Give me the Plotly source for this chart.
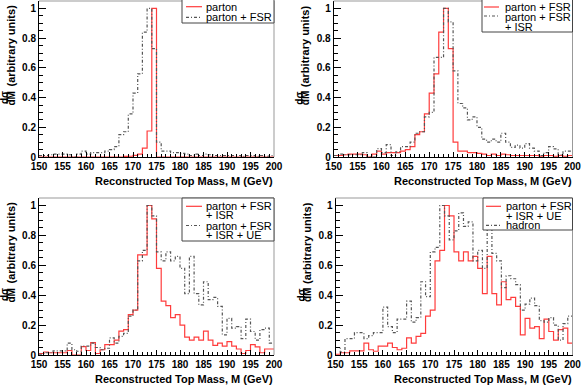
import numpy as np
import plotly.graph_objects as go

W, H = 582, 386

# bin edges: 1 GeV bins from 150 to 200
m_lo, m_hi = 150, 200

parton = [0, 0, 0, 0, 0, 0, 0, 0, 0, 0,
          0, 0, 0, 0, 0, 0, 0, 0, 0.004, 0.005,
          0.011, 0.02, 0.06, 0.175, 1.0, 0, 0, 0, 0, 0,
          0, 0, 0, 0, 0, 0, 0, 0, 0, 0,
          0, 0, 0, 0, 0, 0, 0, 0, 0, 0]

fsr = [0.01, 0.01, 0.015, 0.02, 0.02, 0.02, 0.015, 0.0, 0.02, 0.04,
       0.02, 0.03, 0.03, 0.03, 0.04, 0.05, 0.07, 0.15, 0.17, 0.29,
       0.43, 0.56, 0.84, 1.0, 0.73, 0.1, 0.04, 0.04, 0.03, 0.03,
       0.025, 0.02, 0.01, 0.02, 0.01, 0.02, 0.015, 0.01, 0.01, 0.01,
       0.01, 0.01, 0.01, 0.005, 0.01, 0.01, 0.005, 0.01, 0.005, 0.01]

isr = [0.01, 0.02, 0.015, 0.015, 0.015, 0.015, 0.03, 0.0, 0.0, 0.056,
       0.03, 0.083, 0.01, 0.035, 0.07, 0.07, 0.1, 0.16, 0.17, 0.27,
       0.3, 0.67, 0.67, 1.0, 0.91, 0.58, 0.36, 0.33, 0.25, 0.27,
       0.2, 0.12, 0.1, 0.12, 0.1, 0.16, 0.1, 0.065, 0.08, 0.06,
       0.09, 0.06, 0.04, 0.01, 0.03, 0.07, 0.055, 0.015, 0.04, 0.04]

ue = [0.005, 0.015, 0.015, 0.027, 0.027, 0.027, 0.08, 0.035, 0.025, 0.06,
      0.06, 0.08, 0.05, 0.035, 0.045, 0.115, 0.08, 0.125, 0.145, 0.26,
      0.3, 0.63, 0.7, 1.0, 0.93, 0.69, 0.63, 0.69, 0.63, 0.66,
      0.58, 0.41, 0.66, 0.41, 0.335, 0.49, 0.37, 0.385, 0.325, 0.135,
      0.245, 0.18, 0.19, 0.11, 0.24, 0.157, 0.1, 0.17, 0.18, 0.08]

hadron = [0.05, 0.02, 0.11, 0.11, 0.15, 0.15, 0.11, 0.13, 0.15, 0.15,
          0.32, 0.19, 0.15, 0.24, 0.24, 0.36, 0.22, 0.25, 0.49, 0.39,
          0.69, 0.72, 1.0, 0.93, 0.77, 0.83, 0.95, 0.86, 0.89, 0.63,
          0.7, 0.58, 0.86, 0.68, 0.63, 0.45, 0.53, 0.51, 0.47, 0.3,
          0.34, 0.38, 0.33, 0.23, 0.22, 0.25, 0.2, 0.1, 0.21, 0.26]

edges = np.arange(m_lo, m_hi + 1)

RED = '#ff3c3c'
DOT = '#555555'
FONT = 'Liberation Sans'


def px(x):
    return x / W


def py(y):
    return 1 - y / H


# frame of each pad in pixels, plus legend layout
panels = [
    dict(x0=39, x1=274, top=1, bot=157, solid=parton, dotted=fsr,
         box=(182, -2, 274, 23), sx=(186, 202), tx=205,
         entries=[('solid', 6.7, [('parton', 6.7)]),
                  ('dot', 17.3, [('parton + FSR', 17.3)])]),
    dict(x0=333.7, x1=572.5, top=1, bot=157, solid=fsr, dotted=isr,
         box=(482, -2, 572.5, 32), sx=(484, 499), tx=504,
         entries=[('solid', 7, [('parton + FSR', 7)]),
                  ('dot', 16, [('parton + FSR', 16.5), ('+ ISR', 26.5)])]),
    dict(x0=39, x1=274, top=198, bot=355, solid=isr, dotted=ue,
         box=(182, 198, 274, 241), sx=(186, 202), tx=205,
         entries=[('solid', 206.3, [('parton + FSR', 206.3), ('+ ISR', 214.7)]),
                  ('dot', 225.5, [('parton + FSR', 226.3), ('+ ISR + UE', 234.7)])]),
    dict(x0=335.5, x1=572.5, top=198, bot=355, solid=ue, dotted=hadron,
         box=(483, 198, 572.5, 230), sx=(486, 501), tx=505,
         entries=[('solid', 206.3, [('parton + FSR', 206.3), ('+ ISR + UE', 215.7)]),
                  ('dot', 225.3, [('hadron', 225.3)])]),
]

fig = go.Figure()
shapes = []
annotations = []
layout = {}

for i, p in enumerate(panels):
    n = '' if i == 0 else str(i + 1)
    xa, ya = 'x' + n, 'y' + n

    for vals, color, dash in [(p['solid'], RED, 'solid'), (p['dotted'], DOT, '3px,2px,1px,2px')]:
        fig.add_trace(go.Scatter(
            x=edges, y=list(vals) + [vals[-1]],
            mode='lines', line=dict(color=color, width=1.2, dash=dash, shape='hv'),
            xaxis=xa, yaxis=ya, showlegend=False, hoverinfo='skip'))

    layout['xaxis' + n] = dict(
        domain=[px(p['x0']), px(p['x1'])], range=[m_lo, m_hi], anchor=ya,
        tick0=150, dtick=5, ticks='inside', ticklen=5, tickcolor='black',
        minor=dict(dtick=1, ticks='inside', ticklen=3, tickcolor='black'),
        showline=True, linecolor='black', linewidth=1, showgrid=False, zeroline=False,
        automargin=False,
        tickfont=dict(family=FONT, size=10, color='black', weight='bold'))
    layout['yaxis' + n] = dict(
        domain=[py(p['bot']), py(p['top'])], range=[0, 1.05], anchor=xa,
        tick0=0, dtick=0.2, ticks='inside', ticklen=7, tickcolor='black',
        minor=dict(dtick=0.05, ticks='inside', ticklen=4, tickcolor='black'),
        showline=True, linecolor='black', linewidth=1, showgrid=False, zeroline=False,
        automargin=False,
        tickfont=dict(family=FONT, size=10, color='black', weight='bold'))

    # top and right frame lines
    shapes.append(dict(type='line', xref='paper', yref='paper',
                       x0=px(p['x0']), x1=px(p['x1']), y0=py(p['top']), y1=py(p['top']),
                       line=dict(color='#999999', width=1)))
    shapes.append(dict(type='line', xref='paper', yref='paper',
                       x0=px(p['x1']), x1=px(p['x1']), y0=py(p['top']), y1=py(p['bot']),
                       line=dict(color='#999999', width=1)))

    # x title
    annotations.append(dict(
        text='Reconstructed Top Mass, M (GeV)', xref='paper', yref='paper',
        x=px(p['x1']), y=py(p['bot'] + 24), xanchor='right', yanchor='middle',
        showarrow=False, borderpad=0,
        font=dict(family=FONT, size=11, color='black', weight='bold')))

    # y title: fraction d(sigma)/dM + (arbitrary units)
    ax = p['x0']
    annotations.append(dict(
        text='(arbitrary units)', xref='paper', yref='paper',
        x=px(ax - 28.5), y=py(p['top'] + 45), textangle=-90,
        xanchor='center', yanchor='middle', showarrow=False, borderpad=0,
        font=dict(family=FONT, size=11, color='black', weight='bold')))
    annotations.append(dict(
        text='dσ', xref='paper', yref='paper',
        x=px(ax - 35), y=py(p['top'] + 97), textangle=-90,
        xanchor='center', yanchor='middle', showarrow=False, borderpad=0,
        font=dict(family=FONT, size=10, color='black', weight='bold')))
    annotations.append(dict(
        text='dM', xref='paper', yref='paper',
        x=px(ax - 28.5), y=py(p['top'] + 97), textangle=-90,
        xanchor='center', yanchor='middle', showarrow=False, borderpad=0,
        font=dict(family=FONT, size=10, color='black', weight='bold')))
    shapes.append(dict(type='line', xref='paper', yref='paper',
                       x0=px(ax - 32), x1=px(ax - 32),
                       y0=py(p['top'] + 91), y1=py(p['top'] + 103),
                       line=dict(color='black', width=1)))

    # legend box
    bx0, by0, bx1, by1 = p['box']
    shapes.append(dict(type='rect', xref='paper', yref='paper',
                       x0=px(bx0), x1=px(bx1), y0=py(by1), y1=py(by0),
                       fillcolor='white', line=dict(color='#444444', width=1)))
    for style, sy, lines in p['entries']:
        shapes.append(dict(type='line', xref='paper', yref='paper',
                           x0=px(p['sx'][0]), x1=px(p['sx'][1]), y0=py(sy), y1=py(sy),
                           line=dict(color=RED if style == 'solid' else DOT, width=1.2,
                                     dash='solid' if style == 'solid' else '3px,2px,1px,2px')))
        for txt, ty in lines:
            annotations.append(dict(
                text=txt, xref='paper', yref='paper', x=px(p['tx']), y=py(ty),
                xanchor='left', yanchor='middle', showarrow=False, borderpad=0,
                font=dict(family=FONT, size=11, color='black')))

fig.update_layout(
    template='none',
    width=W, height=H, margin=dict(l=0, r=0, t=0, b=0, autoexpand=False),
    paper_bgcolor='white', plot_bgcolor='white',
    shapes=shapes, annotations=annotations, showlegend=False,
    **layout)

# the page body has a default 8px margin; drop it so the figure sits at 0,0
fig.write_html("out.html", config={'displayModeBar': False},
               post_script="document.body.style.margin='0';")
